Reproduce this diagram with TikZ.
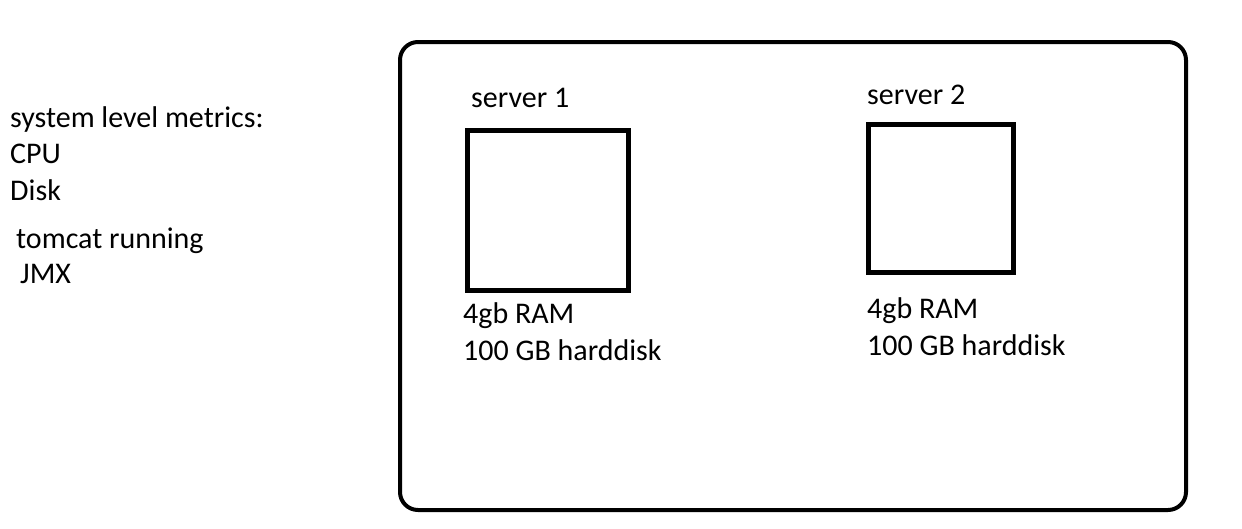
\documentclass[tikz,border=0pt]{standalone}
\usepackage{fontspec}
\setmainfont{Carlito}
\begin{document}
\begin{tikzpicture}[x=1pt,y=-1pt,
  lbl/.style={anchor=base west,inner sep=0pt,font=\fontsize{30}{36}\selectfont},
  srv/.style={draw,line width=5pt,inner sep=0pt,outer sep=0pt,anchor=north west},
  frame/.style={draw,line width=4pt,rounded corners=18pt}]
\useasboundingbox (0,0) rectangle (1242,528);
\draw[frame] (400,42) rectangle (1186,510);
\node[lbl] (t1) at (10,127) {system level metrics:};
\node[lbl] (t2) at (10,163) {CPU};
\node[lbl] (t3) at (10,200) {Disk};
\node[lbl] (t4) at (16,248) {tomcat running};
\node[lbl] (t5) at (20,283) {JMX};
\node[lbl] (s1) at (471,107) {server 1};
\node[srv,minimum width=161pt,minimum height=160pt] (b1) at (467.5,130.5) {};
\node[lbl] (r1) at (463,323) {4gb RAM};
\node[lbl] (h1) at (463,360) {100 GB harddisk};
\node[lbl] (s2) at (867,104) {server 2};
\node[srv,minimum width=144.5pt,minimum height=147.5pt] (b2) at (868.5,124.5) {};
\node[lbl] (r2) at (867,318) {4gb RAM};
\node[lbl] (h2) at (867,355) {100 GB harddisk};
\end{tikzpicture}
\end{document}
